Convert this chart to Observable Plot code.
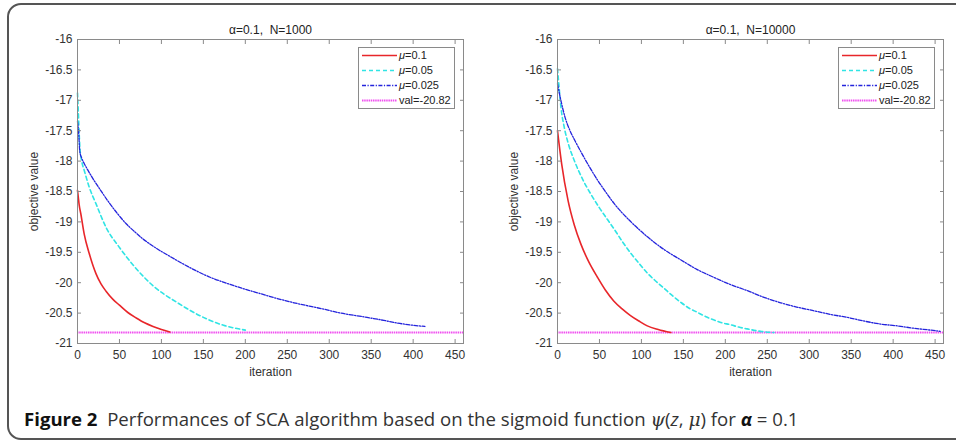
<!DOCTYPE html>
<html>
<head>
<meta charset="utf-8">
<script src="https://cdn.jsdelivr.net/npm/d3@7"></script>
<script src="https://cdn.jsdelivr.net/npm/@observablehq/plot@0.6"></script>
<style>
  html, body { margin: 0; padding: 0; background: #fff; overflow: hidden; }
  #root { position: relative; width: 956px; height: 445px; overflow: hidden; }
  #card { position: absolute; left: 7px; top: 3px; width: 980px; height: 437px;
          border: 2px solid #555; border-radius: 14px; box-sizing: border-box; }
  .panel { position: absolute; top: 0; }
  .legend { position: absolute; top: 0; left: 0; }
  #caption { position: absolute; left: 24px; top: 409px; line-height: 20px; font-family: "Open Sans", sans-serif;
             font-size: 18.6px; color: #333; white-space: nowrap; letter-spacing: 0px; }
  #caption b { color: #111; }
</style>
</head>
<body>
<div id="root">
  <div id="card"></div>
  <div id="left" class="panel" style="left:0px"></div>
  <div id="right" class="panel" style="left:480px"></div>
  <div id="caption"><b>Figure 2</b>&nbsp; Performances of SCA algorithm based on the sigmoid function <i style="font-family:'DejaVu Serif',serif">ψ</i>(<i>z</i>, <i style="font-family:'DejaVu Serif',serif">μ</i>) for <b><i>α</i></b> = 0.1</div>
</div>
<script>
// ---------- data ----------
const xTicks = [0, 50, 100, 150, 200, 250, 300, 350, 400, 450];
const yTicks = [-21, -20.5, -20, -19.5, -19, -18.5, -18, -17.5, -17, -16.5, -16];
const legendLabels = ["0.1", "0.05", "0.025", "val=-20.82"];
const valLine = [-20.82];
const titleLeft = "α=0.1,\u00a0\u00a0N=1000";
const titleRight = "α=0.1,\u00a0\u00a0N=10000";

// Left panel (N=1000)
const leftMu01Iter = [0, 1, 2, 4, 8, 14, 22, 28, 34, 42, 50, 60, 70, 80, 90, 100, 110];
const leftMu01Val  = [-18.48, -18.6, -18.72, -18.87, -19.2, -19.52, -19.85, -20.02, -20.14, -20.27, -20.37, -20.49, -20.58, -20.66, -20.72, -20.77, -20.81];
const leftMu005Iter = [0, 1, 2, 2.8, 5, 8, 14, 22, 34, 50, 70, 90, 118, 150, 174, 200];
const leftMu005Val  = [-16.88, -17.2, -17.55, -17.77, -18.0, -18.15, -18.43, -18.7, -19.09, -19.42, -19.77, -20.05, -20.32, -20.57, -20.7, -20.78];
const leftMu0025Iter = [0, 1.2, 2.8, 5, 8, 12, 18, 28, 38, 48, 58, 68, 78, 88, 98, 108, 118, 138, 158, 178, 198, 218, 238, 258, 278, 295, 310, 345, 365, 384, 400, 414];
const leftMu0025Val  = [-17.35, -17.5, -17.85, -17.95, -18.04, -18.14, -18.28, -18.49, -18.69, -18.87, -19.03, -19.16, -19.28, -19.38, -19.47, -19.55, -19.63, -19.78, -19.91, -20.01, -20.1, -20.18, -20.26, -20.33, -20.39, -20.44, -20.49, -20.57, -20.62, -20.67, -20.7, -20.72];

// Right panel (N=10000)
const rightMu01Iter = [0, 5, 12.6, 20, 28, 37, 47.6, 57, 67, 77, 87, 97, 107, 120, 135];
const rightMu01Val  = [-17.5, -18.05, -18.65, -19.05, -19.37, -19.65, -19.91, -20.12, -20.3, -20.43, -20.54, -20.63, -20.71, -20.77, -20.82];
const rightMu005Iter = [0, 2, 4, 8, 13, 20, 30, 40, 50, 60, 67.6, 77.6, 87.6, 97.6, 107.6, 117.6, 127.6, 137.6, 147.6, 157, 167, 177, 186, 196, 206, 216, 226, 242, 258];
const rightMu005Val  = [-16.48, -16.8, -17.1, -17.44, -17.72, -17.99, -18.3, -18.55, -18.77, -18.97, -19.12, -19.33, -19.52, -19.69, -19.85, -19.98, -20.1, -20.22, -20.33, -20.42, -20.49, -20.56, -20.61, -20.66, -20.69, -20.73, -20.76, -20.8, -20.82];
const rightMu0025Iter = [0, 4, 9, 14, 21, 28, 37, 47.6, 57, 67.6, 87.6, 107.6, 127.6, 147.6, 166, 186, 206, 226, 246, 266, 285, 305, 325, 345, 365, 385, 405, 425, 445, 456];
const rightMu0025Val  = [-16.73, -17.0, -17.28, -17.47, -17.67, -17.85, -18.07, -18.31, -18.5, -18.7, -19.0, -19.25, -19.46, -19.63, -19.78, -19.91, -20.03, -20.13, -20.24, -20.33, -20.4, -20.46, -20.52, -20.57, -20.63, -20.68, -20.71, -20.75, -20.78, -20.8];

// ---------- styles ----------
const styles = [
  {stroke: "#e8262a", strokeWidth: 1.6, dash: null},
  {stroke: "#30e4e4", strokeWidth: 1.6, dash: "4,3"},
  {stroke: "#2424dc", strokeWidth: 1.3, dash: "4,1.5,1.2,1.5"},
  {stroke: "#f050f0", strokeWidth: 2, dash: "1.5,0.7"}
];

function zip(xs, ys) { return xs.map((x, i) => ({iter: x, val: ys[i]})); }

function panel(el, width, title, series) {
  const font = "'Liberation Sans', Arial, sans-serif";
  const chart = Plot.plot({
    width, height: 390,
    marginLeft: 77, marginRight: width - 463, marginTop: 39, marginBottom: 47,
    x: {domain: [0, 460]},
    y: {domain: [-21, -16]},
    style: {fontFamily: font, fontSize: "12px", color: "#333", background: "transparent", overflow: "visible"},
    marks: [
      Plot.ruleY(valLine, {stroke: styles[3].stroke, strokeWidth: styles[3].strokeWidth, strokeDasharray: styles[3].dash}),
      ...series.map((s, i) => Plot.line(s, {x: "iter", y: "val", curve: "monotone-x",
        stroke: styles[i].stroke, strokeWidth: styles[i].strokeWidth, strokeDasharray: styles[i].dash})),
      Plot.frame({stroke: "#8a8a8a", strokeWidth: 1}),
      Plot.axisX(xTicks, {anchor: "bottom", tickSize: -4, stroke: "#8a8a8a", fill: "none", label: null}),
      Plot.axisX(xTicks, {anchor: "top", tickSize: -4, stroke: "#8a8a8a", fill: "none", label: null}),
      Plot.axisY(yTicks, {anchor: "left", tickSize: -4, stroke: "#8a8a8a", fill: "none", label: null}),
      Plot.axisY(yTicks, {anchor: "right", tickSize: -4, stroke: "#8a8a8a", fill: "none", label: null}),
      Plot.axisX(xTicks, {anchor: "bottom", tickSize: 0, tickPadding: 7, fill: "#333", label: null, tickFormat: d => String(d)}),
      Plot.axisY(yTicks, {anchor: "left", tickSize: 0, tickPadding: 5, fill: "#333", label: null, tickFormat: d => String(d)}),
      Plot.text([title], {frameAnchor: "top", dy: -9, lineAnchor: "middle", textAnchor: "middle", text: d => d, fill: "#222", fontSize: 12}),
      Plot.text(["iteration"], {frameAnchor: "bottom", dy: 29, lineAnchor: "middle", textAnchor: "middle", text: d => d, fill: "#333", fontSize: 12}),
      Plot.text(["objective value"], {frameAnchor: "left", dx: -43, rotate: -90, lineAnchor: "middle", textAnchor: "middle", text: d => d, fill: "#333", fontSize: 12})
    ]
  });
  el.appendChild(chart);

  // legend
  const svg = d3.select(el).append("svg").attr("class", "legend")
    .attr("width", width).attr("height", 130)
    .style("font-family", font).style("font-size", "11px");
  svg.append("rect").attr("x", 358.5).attr("y", 47.5).attr("width", 96).attr("height", 61)
    .attr("fill", "#fff").attr("stroke", "#8a8a8a").attr("stroke-width", 1);
  legendLabels.forEach((lab, i) => {
    const y = 55.5 + i * 15;
    svg.append("line").attr("x1", 362).attr("x2", 397).attr("y1", y).attr("y2", y)
      .attr("stroke", styles[i].stroke).attr("stroke-width", styles[i].strokeWidth)
      .attr("stroke-dasharray", styles[i].dash);
    const t = svg.append("text").attr("x", 399).attr("y", y).attr("dy", "0.35em").attr("fill", "#222");
    if (i < 3) {
      t.append("tspan").attr("font-style", "italic").text("μ");
      t.append("tspan").text("=" + lab);
    } else {
      t.text(lab);
    }
  });
}

panel(document.getElementById("left"), 478, titleLeft,
  [zip(leftMu01Iter, leftMu01Val), zip(leftMu005Iter, leftMu005Val), zip(leftMu0025Iter, leftMu0025Val)]);
panel(document.getElementById("right"), 476, titleRight,
  [zip(rightMu01Iter, rightMu01Val), zip(rightMu005Iter, rightMu005Val), zip(rightMu0025Iter, rightMu0025Val)]);
</script>
</body>
</html>
